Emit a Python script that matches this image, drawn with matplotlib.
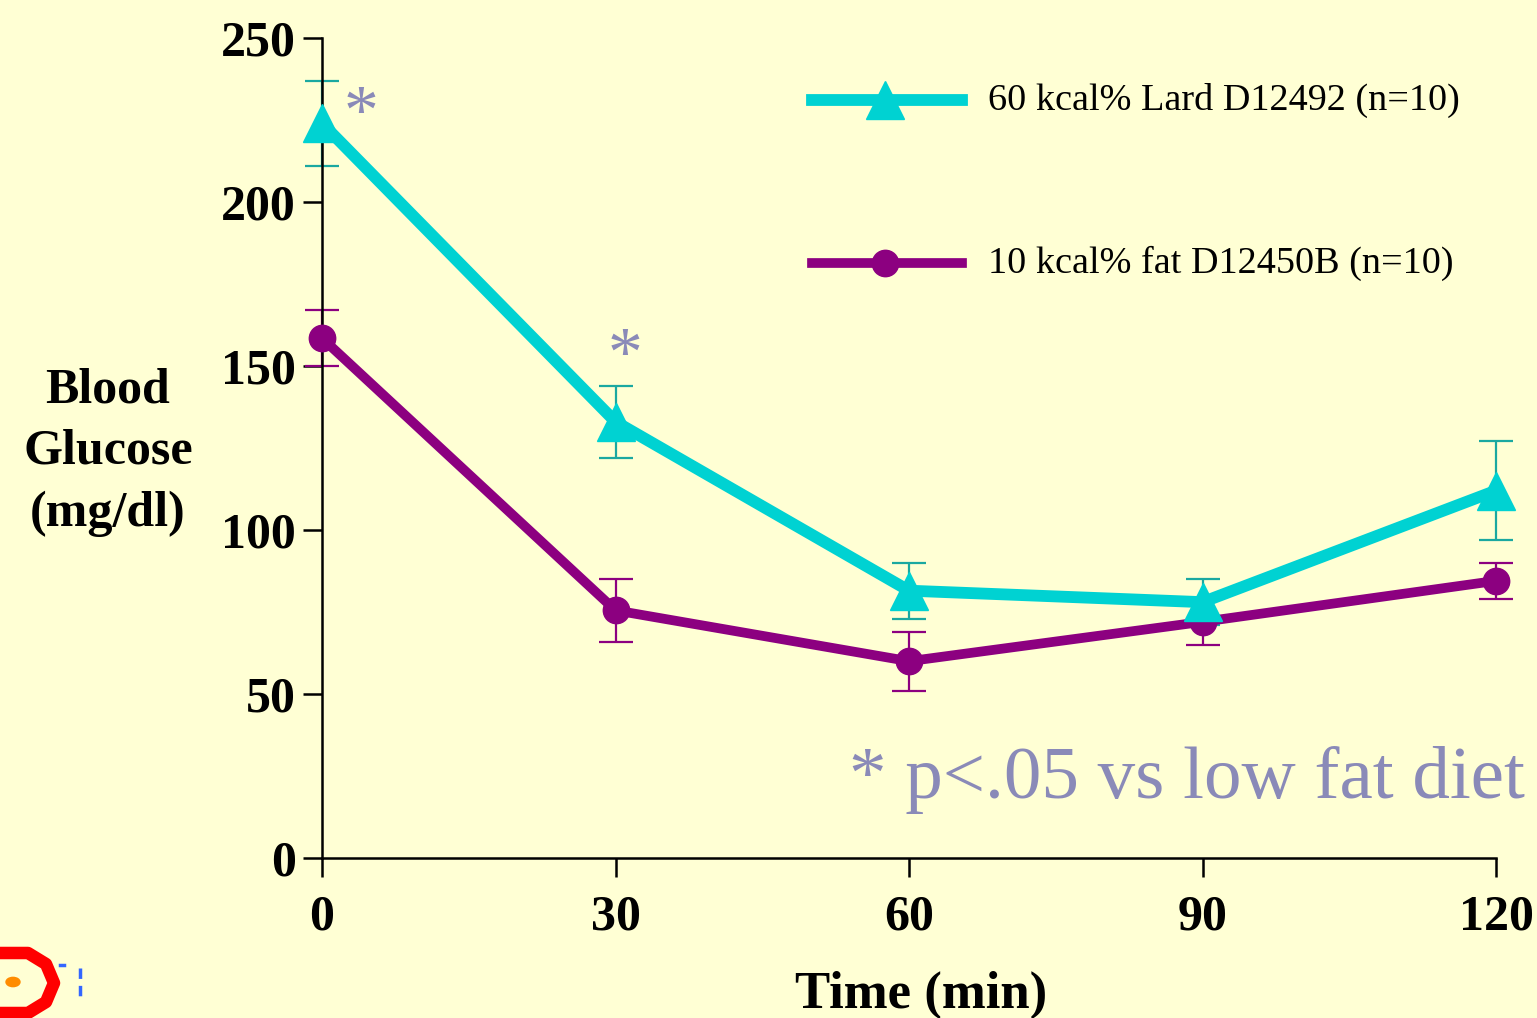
import matplotlib
matplotlib.use("Agg")
import matplotlib.pyplot as plt
from matplotlib.lines import Line2D
from matplotlib.patches import Circle

time_min = [0, 30, 60, 90, 120]
lard_mean = [224, 133, 81.5, 78, 112]
lard_sem = [13, 11, 8.5, 7, 15]
lowfat_mean = [158.5, 75.5, 60, 72, 84.5]
lowfat_sem = [8.5, 9.5, 9, 7, 5.5]
lard_label = "60 kcal% Lard D12492 (n=10)"
lowfat_label = "10 kcal% fat D12450B (n=10)"
sig_times = [0, 30]
sig_values = [224, 133]
x_ticks = [0, 30, 60, 90, 120]
y_ticks = [0, 50, 100, 150, 200, 250]

BG = "#FFFFD4"
CYAN = "#00D2D2"
CYAN_ERR = "#1AA8A0"
PURPLE = "#8C0080"
NOTE = "#8A8AB8"
SERIF = ["Liberation Serif", "DejaVu Serif"]
W, H = 1537, 1018

fig = plt.figure(figsize=(W/100, H/100), dpi=100, facecolor=BG)
ax = fig.add_axes([322/W, 1-858/H, (1496-322)/W, (858-38)/H])
ax.set_facecolor(BG)

# error bars
ax.errorbar(time_min, lard_mean, yerr=lard_sem, fmt="none", ecolor=CYAN_ERR,
            elinewidth=1.6, capsize=12, capthick=1.6, clip_on=False, zorder=2)
ax.errorbar(time_min, lowfat_mean, yerr=lowfat_sem, fmt="none", ecolor=PURPLE,
            elinewidth=1.6, capsize=12, capthick=1.6, clip_on=False, zorder=2)
ax.plot(time_min, lard_mean, color=CYAN, lw=8.5, marker="^", ms=27,
        clip_on=False, zorder=4)
ax.plot(time_min, lowfat_mean, color=PURPLE, lw=7, marker="o", ms=19,
        clip_on=False, zorder=3)

# significance asterisks
sig_offsets = [(28, 5), (7, 46)]
for t, v, off in zip(sig_times, sig_values, sig_offsets):
    ax.annotate("*", xy=(t, v), xytext=off, textcoords="offset points",
                ha="center", va="center", fontsize=50, color=NOTE,
                family=SERIF)

ax.set_xlim(0, 120)
ax.set_ylim(0, 250)
ax.set_xticks(x_ticks)
ax.set_yticks(y_ticks)
for s in ["top", "right"]:
    ax.spines[s].set_visible(False)
for s in ["left", "bottom"]:
    ax.spines[s].set_linewidth(1.8)
ax.tick_params(direction="out", length=14, width=1.8, pad=5)
ax.tick_params(axis="x", pad=12)
for lbl in ax.get_xticklabels() + ax.get_yticklabels():
    lbl.set_fontfamily(SERIF)
    lbl.set_fontweight("bold")
    lbl.set_fontsize(36)

# y label (horizontal, three lines)
fig.text(108/W, 1-452/H, "Blood\nGlucose\n(mg/dl)", ha="center", va="center",
         fontsize=36, fontweight="bold", family=SERIF, linespacing=1.44)
# x label
fig.text(921/W, 1-995/H, "Time (min)", ha="center", va="center",
         fontsize=38, fontweight="bold", family=SERIF)

# legend (drawn in figure pixel coordinates)
leg_rows = [(100, CYAN, 8.5, "^", 27, lard_label),
            (263, PURPLE, 7, "o", 19, lowfat_label)]
for y, c, lw, m, ms, lab in leg_rows:
    fy = 1 - y/H
    fig.add_artist(Line2D([812/W, 962/W], [fy, fy], color=c, lw=lw,
                          transform=fig.transFigure))
    fig.add_artist(Line2D([885/W], [fy], color=c, marker=m, ms=ms, lw=0,
                          transform=fig.transFigure))
    fig.text(988/W, fy, lab, ha="left", va="center", fontsize=27.5, family=SERIF)

# p-value note
fig.text(1525/W, 1-780/H, "* p<.05 vs low fat diet", ha="right", va="center",
         fontsize=54, color=NOTE, family=SERIF)

# logo fragment at lower-left (decorative shape)
dx = [-12, 28, 46, 54, 46, 28, -12]
dy = [953, 953, 964, 983, 1002, 1013, 1013]
fig.add_artist(Line2D([x/W for x in dx], [1-y/H for y in dy], color="#FF0000",
                      lw=9, solid_joinstyle="round", transform=fig.transFigure))
fig.add_artist(Circle((13/W, 1-982/H), 7/W, color="#FF8C00",
                      transform=fig.transFigure))
fig.add_artist(Line2D([80/W, 80/W], [1-968/H, 1-1000/H], color="#3366FF", lw=2.5,
                      ls=(0, (3, 2)), transform=fig.transFigure))
fig.add_artist(Line2D([60/W, 64/W], [1-965/H, 1-965/H], color="#3366FF", lw=2.5,
                      transform=fig.transFigure))

fig.savefig("out.png", dpi=100, facecolor=BG)
